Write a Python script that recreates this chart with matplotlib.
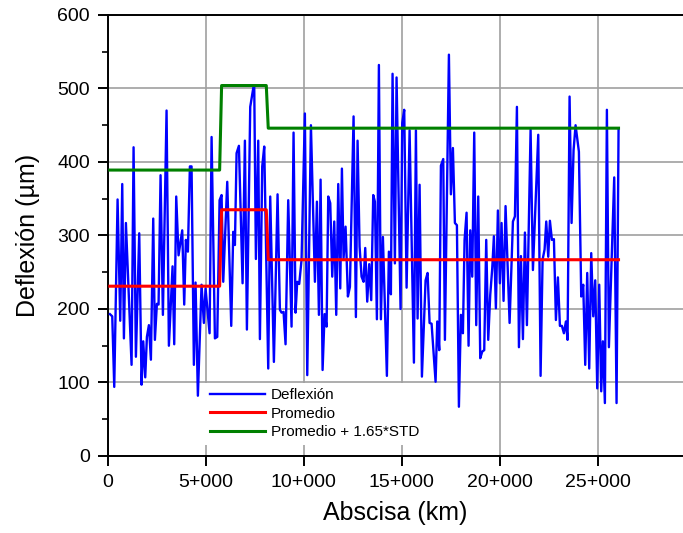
import matplotlib
matplotlib.use("Agg")
import matplotlib.pyplot as plt
from matplotlib.ticker import FuncFormatter, MultipleLocator

plt.rcParams["font.family"] = ["Liberation Sans", "DejaVu Sans"]

# deflection readings along the road (abscissa in m, deflection in µm)
abscisa = [102, 221, 323, 493, 629, 731, 816, 918, 1207, 1309, 1428, 1598, 1717, 1802,
           1904, 1989, 2091, 2193, 2312, 2397, 2499, 2584, 2686, 2805, 2992, 3111, 3298,
           3383, 3485, 3604, 3723, 3791, 3893, 3978, 4080, 4182, 4267, 4386, 4471, 4590,
           4777, 4896, 4981, 5187, 5289, 5459, 5578, 5697, 5799, 5884, 6088, 6292, 6394,
           6479, 6564, 6683, 6870, 6989, 7091, 7261, 7431, 7465, 7550, 7669, 7754, 7873,
           7975, 8179, 8281, 8468, 8655, 8774, 8859, 8961, 9063, 9199, 9369, 9471, 9573,
           9658, 9760, 9879, 10049, 10170, 10357, 10561, 10663, 10765, 10850, 10952,
           11054, 11156, 11241, 11343, 11445, 11547, 11649, 11751, 11853, 11938, 12023,
           12125, 12244, 12346, 12533, 12652, 12737, 12839, 12941, 13043, 13128, 13230,
           13332, 13434, 13536, 13621, 13723, 13825, 13927, 14029, 14233, 14335, 14437,
           14522, 14641, 14726, 14930, 15015, 15117, 15238, 15391, 15612, 15714, 15799,
           15901, 16020, 16207, 16309, 16411, 16513, 16717, 16802, 16904, 16989, 17108,
           17193, 17397, 17499, 17601, 17703, 17805, 17907, 18009, 18111, 18196, 18298,
           18400, 18485, 18587, 18689, 18791, 18893, 18995, 19097, 19199, 19301, 19403,
           19505, 19607, 19692, 19794, 19896, 19998, 20083, 20185, 20287, 20493, 20663,
           20765, 20867, 20969, 21071, 21173, 21275, 21377, 21564, 21683, 21955, 22074,
           22176, 22278, 22363, 22465, 22550, 22652, 22754, 22856, 22958, 23060, 23162,
           23264, 23366, 23451, 23553, 23655, 23757, 23859, 24029, 24148, 24250, 24352,
           24454, 24556, 24658, 24760, 24862, 24964, 25066, 25168, 25253, 25355, 25457,
           25559, 25831, 25950, 26052]
deflexion = [193, 190, 94, 349, 184, 370, 160, 317, 124, 420, 135, 303, 97, 156,
             107, 162, 178, 131, 323, 158, 207, 206, 382, 192, 470, 150, 258,
             152, 353, 273, 294, 307, 206, 294, 278, 394, 394, 124, 236, 82,
             233, 181, 228, 167, 434, 160, 162, 348, 355, 237, 373, 177, 305,
             287, 412, 422, 235, 429, 172, 475, 503, 503, 268, 429, 159, 394,
             421, 119, 353, 128, 356, 199, 195, 196, 152, 348, 176, 440, 195,
             237, 234, 267, 466, 110, 450, 237, 346, 192, 376, 117,
             193, 176, 353, 344, 244, 319, 192, 370, 228, 391, 269,
             312, 217, 230, 462, 189, 429, 285, 244, 237, 283, 210,
             261, 212, 355, 346, 186, 532, 186, 298, 109, 278, 220,
             520, 262, 515, 200, 453, 471, 229, 443, 127, 443, 187,
             369, 108, 239, 249, 181, 180, 101, 183, 144, 395, 404,
             158, 546, 356, 419, 317, 314, 67, 192, 167, 294, 331,
             150, 307, 244, 440, 178, 353, 133, 142, 144, 294, 158,
             219, 255, 299, 201, 334, 235, 317, 211, 340, 181, 319,
             326, 475, 148, 272, 159, 304, 178, 444, 253, 437, 109,
             267, 281, 319, 271, 320, 294, 295, 185, 243, 177, 177,
             167, 183, 158, 489, 317, 416, 450, 414, 217, 233, 124,
             249, 119, 276, 190, 239, 92, 233, 88, 156, 72, 471,
             148, 379, 72, 444]

# homogeneous sections: mean and mean + 1.65*STD
tramo_x = [100, 5700, 5800, 8080, 8180, 26050]
promedio = [231, 231, 335, 335, 267, 267]
promedio_std = [389, 389, 504, 504, 446, 446]

fig = plt.figure(figsize=(6.83, 5.33), dpi=100)
ax = fig.add_axes([0.158, 0.1445, 0.842, 0.8274])

ax.plot(abscisa, deflexion, color="#0000ff", lw=1.7, label="Deflexión", zorder=3)
ax.plot(tramo_x, promedio, color="#ff0000", lw=2.2, label="Promedio", zorder=4)
ax.plot(tramo_x, promedio_std, color="#008000", lw=2.2,
        label="Promedio + 1.65*STD", zorder=4)

ax.set_xlim(0, 29340)
ax.set_ylim(0, 600)
ax.xaxis.set_major_locator(MultipleLocator(5000))
ax.yaxis.set_major_locator(MultipleLocator(100))
ax.yaxis.set_minor_locator(MultipleLocator(50))


def fmt_km(v, pos):
    v = int(round(v))
    if v == 0:
        return "0"
    return f"{v // 1000}+{v % 1000:03d}"


ax.xaxis.set_major_formatter(FuncFormatter(fmt_km))
ax.grid(True, which="major", color="#a0a0a0", lw=1.2)
ax.set_axisbelow(True)

ax.spines["right"].set_visible(False)
for s in ["left", "bottom", "top"]:
    ax.spines[s].set_linewidth(1.4)
ax.tick_params(axis="both", which="major", direction="out", length=7, width=1.4,
               labelsize=14, pad=6)
ax.tick_params(axis="y", which="minor", direction="out", length=4, width=1.2)

ax.set_xlabel("Abscisa (km)", fontsize=18, labelpad=7)
ax.set_ylabel("Deflexión (µm)", fontsize=18, labelpad=12)

leg = ax.legend(loc="upper left", bbox_to_anchor=(0.169, 0.166), borderaxespad=0,
                fontsize=11, frameon=True, fancybox=False, handlelength=3.6,
                handletextpad=0.35, labelspacing=0.3, borderpad=0.35)
leg.get_frame().set_facecolor("white")
leg.get_frame().set_edgecolor("none")
leg.get_frame().set_alpha(1)

fig.savefig("out.png", dpi=100)
